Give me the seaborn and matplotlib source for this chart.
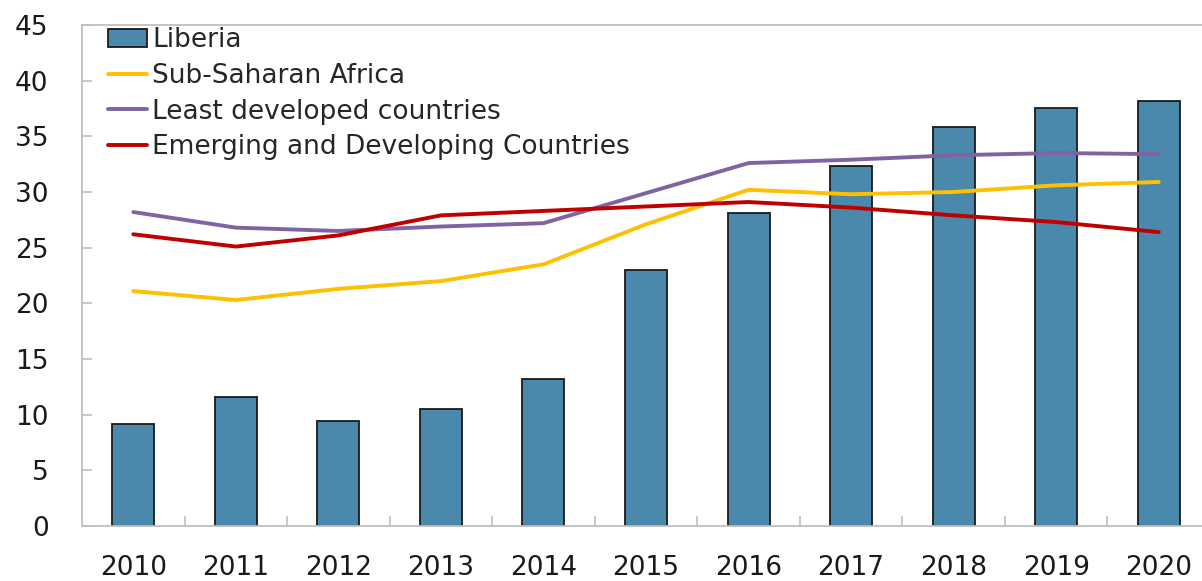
import matplotlib
matplotlib.use('Agg')
import matplotlib.pyplot as plt
import seaborn as sns
import pandas as pd
import numpy as np

# Data
years = ['2010', '2011', '2012', '2013', '2014', '2015', '2016', '2017', '2018', '2019', '2020']
liberia = [9.2, 11.6, 9.4, 10.5, 13.2, 23.0, 28.1, 32.3, 35.8, 37.5, 38.2]
sub_saharan = [21.1, 20.3, 21.3, 22.0, 23.5, 27.1, 30.2, 29.8, 30.0, 30.6, 30.9]
least_dev = [28.2, 26.8, 26.5, 26.9, 27.2, 29.9, 32.6, 32.9, 33.3, 33.5, 33.4]
emerging = [26.2, 25.1, 26.1, 27.9, 28.3, 28.7, 29.1, 28.6, 27.9, 27.3, 26.4]

sns.set_style('white')
plt.rcParams['font.family'] = ['DejaVu Sans']

bar_df = pd.DataFrame({'year': years, 'value': liberia})
line_df = pd.concat([
    pd.DataFrame({'pos': np.arange(len(years)), 'value': sub_saharan, 'series': 'Sub-Saharan Africa'}),
    pd.DataFrame({'pos': np.arange(len(years)), 'value': least_dev, 'series': 'Least developed countries'}),
    pd.DataFrame({'pos': np.arange(len(years)), 'value': emerging, 'series': 'Emerging and Developing Countries'}),
])
line_colors = {
    'Sub-Saharan Africa': '#FFC000',
    'Least developed countries': '#8064A2',
    'Emerging and Developing Countries': '#C00000',
}

fig = plt.figure(figsize=(12.02, 5.81), dpi=100)
ax = fig.add_axes([82 / 1202, 1 - 526 / 581, 1128 / 1202, 501 / 581])

sns.barplot(data=bar_df, x='year', y='value', color='#4A89AB', saturation=1,
            width=0.41, edgecolor='#1a1a1a', linewidth=1.3, ax=ax, label='Liberia')
sns.lineplot(data=line_df, x='pos', y='value', hue='series', palette=line_colors,
             linewidth=2.8, ax=ax, legend=True)

ax.set_xlim(-0.5, 10.5)
ax.set_ylim(0, 45)
ax.set_yticks(np.arange(0, 50, 5))
ax.set_xlabel('')
ax.set_ylabel('')

for s in ax.spines.values():
    s.set_color('#BFBFBF')
    s.set_linewidth(1.3)

fs = 19
ax.tick_params(axis='y', direction='in', length=7, width=1.2, color='#BFBFBF',
               pad=24, labelsize=fs, labelcolor='#1a1a1a', left=True)
ax.tick_params(axis='x', length=0, pad=21, labelsize=fs, labelcolor='#1a1a1a')
# category boundary ticks along the bottom
ax.set_xticks(np.arange(0.5, 10.5, 1), minor=True)
ax.tick_params(axis='x', which='minor', direction='in', length=7, width=1.2,
               color='#BFBFBF', bottom=True)

# put Liberia (bars) first in the legend
handles, labels = ax.get_legend_handles_labels()
order = [labels.index('Liberia')] + [i for i, l in enumerate(labels) if l != 'Liberia']
ax.legend([handles[i] for i in order], [labels[i] for i in order],
          loc='upper left', bbox_to_anchor=(0.014, 1.017),
          frameon=False, fontsize=fs, handlelength=1.45, handletextpad=0.2,
          labelspacing=0.37, borderaxespad=0)

fig.savefig('out.png', dpi=100)
